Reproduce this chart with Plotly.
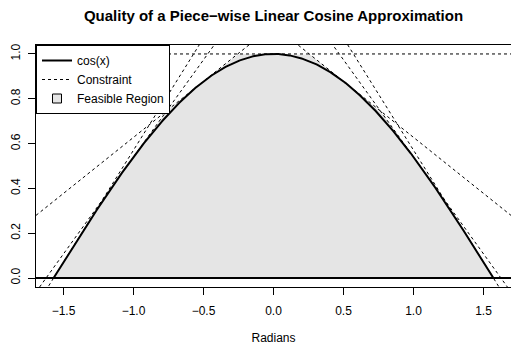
import numpy as np
import plotly.graph_objects as go

# ---- data ----
tangent_points_deg = [-90, -60, -30, 0, 30, 60, 90]   # points where constraint tangents touch cos(x)
lower_bound = 0.0                                      # y >= 0 constraint (solid line)
x_domain = [-np.pi / 2, np.pi / 2]
x_ticks = [-1.5, -1.0, -0.5, 0.0, 0.5, 1.0, 1.5]
y_ticks = [0.0, 0.2, 0.4, 0.6, 0.8, 1.0]
title = "Quality of a Piece\u2212wise Linear Cosine Approximation"
x_label = "Radians"

# ---- derived ----
span = x_domain[1] - x_domain[0]
x_range = [x_domain[0] - 0.04 * span, x_domain[1] + 0.04 * span]
y_range = [-0.04, 1.04]

x_curve = np.linspace(x_domain[0], x_domain[1], 400)
y_curve = np.cos(x_curve)

a_rad = np.deg2rad(tangent_points_deg)
def tangent(a, x):
    return np.cos(a) - np.sin(a) * (x - a)

x_env = np.linspace(x_domain[0], x_domain[1], 2001)
y_env = np.min([tangent(a, x_env) for a in a_rad], axis=0)
y_env = np.maximum(y_env, lower_bound)
poly_x = np.concatenate([x_env, x_env[::-1]])
poly_y = np.concatenate([y_env, np.full_like(x_env, lower_bound)])

FONT = "Liberation Sans, Arial, sans-serif"
GREY = "#E5E5E5"

fig = go.Figure()
fig.add_trace(go.Scatter(x=poly_x, y=poly_y, fill="toself", fillcolor=GREY,
                         line=dict(width=0), mode="lines", showlegend=False,
                         hoverinfo="skip"))
x_line = np.array(x_range)
for i, a in enumerate(a_rad):
    fig.add_trace(go.Scatter(x=x_line, y=tangent(a, x_line), mode="lines",
                             line=dict(color="black", width=1, dash="3px,3px"),
                             name="Constraint", legendgroup="c",
                             showlegend=(i == 0), legendrank=2))
fig.add_trace(go.Scatter(x=x_curve, y=y_curve, mode="lines",
                         line=dict(color="black", width=2),
                         name="cos(x)", legendrank=1))
fig.add_trace(go.Scatter(x=[None], y=[None], mode="markers",
                         marker=dict(symbol="square", size=9, color=GREY,
                                     line=dict(color="black", width=1)),
                         name="Feasible Region", legendrank=3))
fig.add_hline(y=lower_bound, line=dict(color="black", width=2))

fig.update_layout(
    width=511, height=345, autosize=False,
    margin=dict(l=36, r=0, t=45, b=58),
    paper_bgcolor="white", plot_bgcolor="white",
    font=dict(family=FONT, size=12, color="black"),
    title=dict(text="<b>" + title + "</b>", x=0.5, xref="paper", xanchor="center",
               y=1 - 15.5 / 345, yanchor="middle", yref="container",
               font=dict(size=15, family=FONT, color="black")),
    legend=dict(x=0, y=1, xanchor="left", yanchor="top", bgcolor="white",
                bordercolor="black", borderwidth=1, font=dict(size=12),
                itemwidth=30, tracegroupgap=0),
)
fig.update_xaxes(range=x_range, tickvals=x_ticks, tickformat=".1f",
                 showgrid=False, zeroline=False, showline=True, mirror=True,
                 linecolor="black", linewidth=1, ticks="outside", ticklen=7,
                 tickcolor="black", tickfont=dict(size=12), ticklabelstandoff=6,
                 automargin=False,
                 title=dict(text=x_label, standoff=21, font=dict(size=12)))
fig.update_yaxes(range=y_range, tickvals=y_ticks, tickformat=".1f",
                 showgrid=False, zeroline=False, showline=True, mirror=True,
                 linecolor="black", linewidth=1, ticks="outside", ticklen=7,
                 tickcolor="black", tickangle=-90, tickfont=dict(size=12),
                 ticklabelstandoff=3, automargin=False)

fig.write_html("out.html")
